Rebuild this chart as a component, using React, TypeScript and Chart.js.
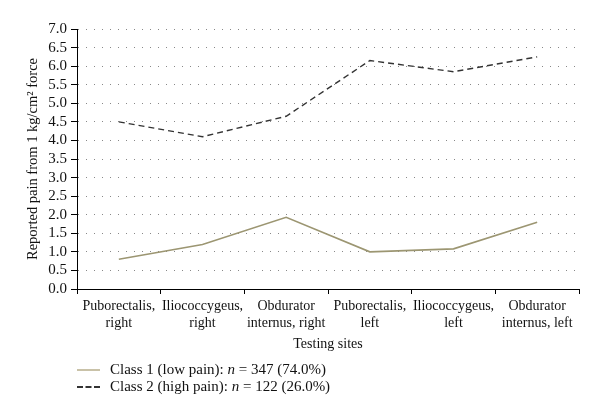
import React, { useEffect, useRef } from "react";
import { Chart, registerables } from "chart.js";

Chart.register(...registerables);

const categories: string[][] = [
  ["Puborectalis,", "right"],
  ["Iliococcygeus,", "right"],
  ["Obdurator", "internus, right"],
  ["Puborectalis,", "left"],
  ["Iliococcygeus,", "left"],
  ["Obdurator", "internus, left"],
];
const class1Values = [0.8, 1.2, 1.93, 1.0, 1.08, 1.8];
const class2Values = [4.5, 4.1, 4.65, 6.15, 5.85, 6.25];
const class1Label = "Class 1 (low pain)";
const class2Label = "Class 2 (high pain)";
const class1Stats = "= 347 (74.0%)";
const class2Stats = "= 122 (26.0%)";
const yTitle = "Reported pain from 1 kg/cm\u00B2 force";
const xTitle = "Testing sites";

const FONT = "'Liberation Serif', 'DejaVu Serif', serif";
const C1 = "#9c9672";
const C2 = "#333333";

export default function App() {
  const ref = useRef<HTMLCanvasElement>(null);
  useEffect(() => {
    document.body.style.margin = "0";
    const ctx = ref.current!;
    const chart = new Chart(ctx, {
      type: "line",
      data: {
        labels: categories,
        datasets: [
          {
            label: class1Label,
            data: class1Values,
            borderColor: C1,
            borderWidth: 1.6,
            pointRadius: 0,
            tension: 0,
            fill: false,
          },
          {
            label: class2Label,
            data: class2Values,
            borderColor: C2,
            borderWidth: 1.4,
            borderDash: [6, 4],
            pointRadius: 0,
            tension: 0,
            fill: false,
          },
        ],
      },
      options: {
        animation: false,
        responsive: false,
        maintainAspectRatio: false,
        layout: { padding: { left: 0, right: 21, top: 29, bottom: 58 } },
        plugins: { legend: { display: false }, tooltip: { enabled: false } },
        scales: {
          x: {
            offset: true,
            afterFit: (s: any) => {
              s.height = 70;
            },
            grid: {
              offset: true,
              drawOnChartArea: false,
              drawTicks: true,
              tickLength: 5,
              tickColor: "#000",
              tickWidth: 1,
            },
            border: { display: true, color: "#000", width: 1 },
            ticks: {
              color: "#111",
              font: { family: FONT, size: 14 },
              padding: 4,
              maxRotation: 0,
              autoSkip: false,
            },
            title: {
              display: true,
              text: xTitle,
              color: "#111",
              font: { family: FONT, size: 14 },
              padding: { top: 0, bottom: 6 },
            },
          },
          y: {
            min: 0,
            max: 7,
            afterFit: (s: any) => {
              s.width = 77;
            },
            grid: {
              color: "#888",
              lineWidth: 1,
              drawTicks: true,
              tickLength: 6,
              tickColor: "#000",
              tickWidth: 1,
              tickBorderDash: [],
            },
            border: { display: true, color: "#000", width: 1, dash: [1, 7] },
            ticks: {
              stepSize: 0.5,
              autoSkip: false,
              color: "#111",
              font: { family: FONT, size: 15 },
              padding: 4,
              callback: (v: any) => Number(v).toFixed(1),
            },
            title: {
              display: true,
              text: yTitle,
              color: "#111",
              font: { family: FONT, size: 14.5 },
              padding: { top: 24, bottom: 0 },
            },
          },
        },
      },
    });
    return () => chart.destroy();
  }, []);

  const rowStyle: React.CSSProperties = {
    position: "absolute",
    left: 77,
    display: "flex",
    alignItems: "center",
    fontFamily: FONT,
    fontSize: 15,
    color: "#111",
    whiteSpace: "nowrap",
  };
  return (
    <div style={{ position: "relative", width: 600, height: 417, background: "#fff" }}>
      <canvas ref={ref} width={600} height={417} style={{ display: "block" }} />
      <div style={{ ...rowStyle, top: 361 }}>
        <span style={{ display: "inline-block", width: 23, borderTop: "2px solid #c9c2a8", marginRight: 10 }} />
        <span>
          {class1Label}: <i>n</i> {class1Stats}
        </span>
      </div>
      <div style={{ ...rowStyle, top: 378 }}>
        <span style={{ display: "inline-block", width: 23, borderTop: "2px dashed #333", marginRight: 10 }} />
        <span>
          {class2Label}: <i>n</i> {class2Stats}
        </span>
      </div>
    </div>
  );
}
